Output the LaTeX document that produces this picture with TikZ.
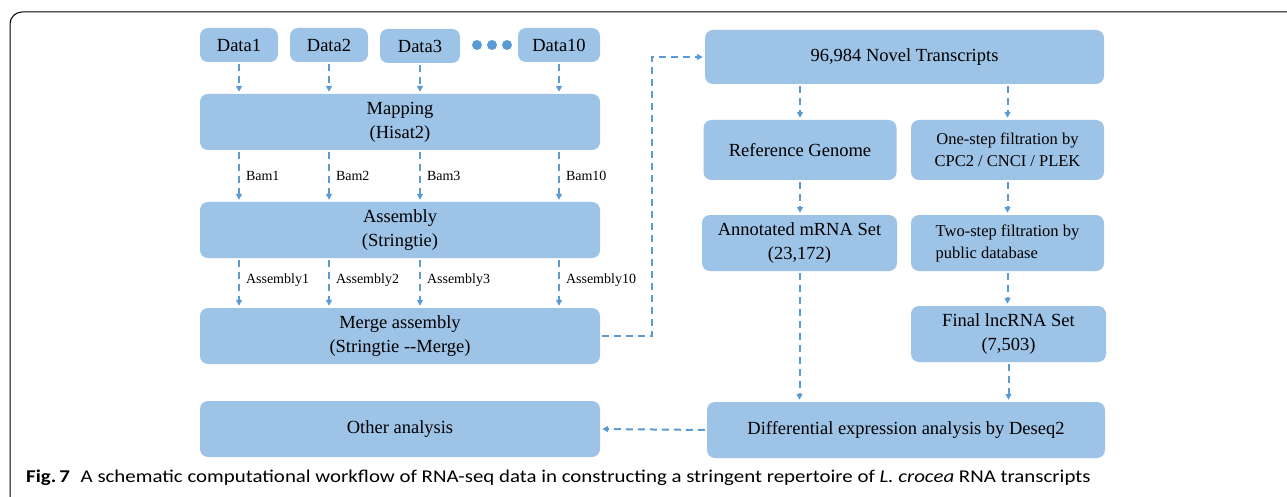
\documentclass[tikz,border=0pt]{standalone}
\usepackage{fontspec}
\setmainfont{Liberation Serif}
\newfontfamily\capfont[FakeStretch=1.16]{Carlito}
\usetikzlibrary{arrows.meta}
\definecolor{boxblue}{HTML}{9DC3E6}
\definecolor{linkblue}{HTML}{5B9BD5}
\begin{document}
\begin{tikzpicture}[x=1pt,y=-1pt,
  box/.style={fill=boxblue,rounded corners=8pt,inner sep=0pt,align=center,
    font=\fontsize{18.5}{24}\selectfont},
  smallbox/.style={box,font=\fontsize{16.5}{22}\selectfont},
  link/.style={draw=linkblue,line width=2pt,dash pattern=on 7pt off 5pt,
    -{Triangle[length=6pt,width=6pt]},shorten >=2pt,shorten <=2pt},
  lbl/.style={font=\fontsize{14}{16}\selectfont,anchor=west,inner sep=0pt},
  dot/.style={circle,fill=linkblue,inner sep=0pt,minimum size=10pt}]
\useasboundingbox (0,0) rectangle (1287,497);
\begin{scope}
  \clip (0,0) rectangle (1287,497);
  \draw[line width=1pt,rounded corners=12pt] (10,12) rectangle (1320,530);
\end{scope}
% input data
\node[box,minimum width=78pt,minimum height=34pt] (d1) at (239,45) {Data1};
\node[box,minimum width=78pt,minimum height=34pt] (d2) at (329,45) {Data2};
\node[box,minimum width=80pt,minimum height=34pt] (d3) at (420,46) {Data3};
\node[box,minimum width=82pt,minimum height=34pt] (d10) at (559,45) {Data10};
\node[dot] (p1) at (477,45) {};
\node[dot] (p2) at (492,45) {};
\node[dot] (p3) at (507,45) {};
% left pipeline
\node[box,minimum width=400pt,minimum height=56pt] (map) at (400,122) {Mapping\\(Hisat2)};
\node[box,minimum width=400pt,minimum height=56pt] (asm) at (400,230) {Assembly\\(Stringtie)};
\node[box,minimum width=400pt,minimum height=56pt] (mrg) at (400,336) {Merge assembly\\(Stringtie -{}-Merge)};
\node[box,minimum width=400pt,minimum height=56pt] (oth) at (400,429) {Other analysis};
% right pipeline
\node[box,minimum width=399pt,minimum height=54pt] (nov) at (904.5,57) {96,984 Novel Transcripts};
\node[box,minimum width=193pt,minimum height=60pt] (ref) at (800,150) {Reference Genome};
\node[smallbox,minimum width=193pt,minimum height=60pt] (one) at (1007.5,150)
  {One-step filtration by\\CPC2 / CNCI / PLEK};
\node[box,minimum width=195pt,minimum height=56pt] (ann) at (799.5,243) {Annotated mRNA Set\\(23,172)};
\node[smallbox,minimum width=193pt,minimum height=56pt,align=left] (two) at (1007.5,243)
  {Two-step filtration by\\public database};
\node[box,minimum width=195pt,minimum height=56pt] (fin) at (1008.5,334) {Final lncRNA Set\\(7,503)};
\node[box,minimum width=398pt,minimum height=56pt] (dif) at (906,430) {Differential expression analysis by Deseq2};
% data to mapping
\foreach \n in {d1,d2,d3,d10}
  \draw[link] (\n.south) -- (\n.south |- map.north);
% mapping to assembly
\foreach \n/\t in {d1/Bam1,d2/Bam2,d3/Bam3,d10/Bam10}{
  \coordinate (bt-\n) at (\n |- map.south);
  \draw[link] (bt-\n) -- (bt-\n |- asm.north)
    node[lbl,pos=0.5,xshift=6pt] {\t};
}
% assembly to merge
\foreach \n/\t in {d1/Assembly1,d2/Assembly2,d3/Assembly3,d10/Assembly10}{
  \coordinate (at-\n) at (\n |- asm.south);
  \draw[link] (at-\n) -- (at-\n |- mrg.north)
    node[lbl,pos=0.45,xshift=6pt] {\t};
}
% merged assembly feeds the novel transcripts
\coordinate (turn) at (652,0);
\draw[link] (mrg.east) -- (turn |- mrg.east) -- (turn |- nov.west) -- (nov.west);
% right side flow
\draw[link] (ref |- nov.south) -- (ref.north);
\draw[link] (one |- nov.south) -- (one.north);
\draw[link] (ref.south) -- (ann.north -| ref);
\draw[link] (one.south) -- (two.north -| one);
\draw[link] (two.south) -- (fin.north -| two);
\draw[link] (ann.south) -- (dif.north -| ann);
\draw[link] (fin.south) -- (dif.north -| fin);
\draw[link] (dif.west) -- (oth.east);
% caption
\node[anchor=base west,inner sep=0pt,font=\capfont\fontsize{18}{20}\selectfont] (cap) at (26,482)
  {\textbf{Fig.\,7}\hspace{6pt} A schematic computational workflow of RNA-seq data in constructing a stringent repertoire of \textit{L. crocea} RNA transcripts};
\end{tikzpicture}
\end{document}
